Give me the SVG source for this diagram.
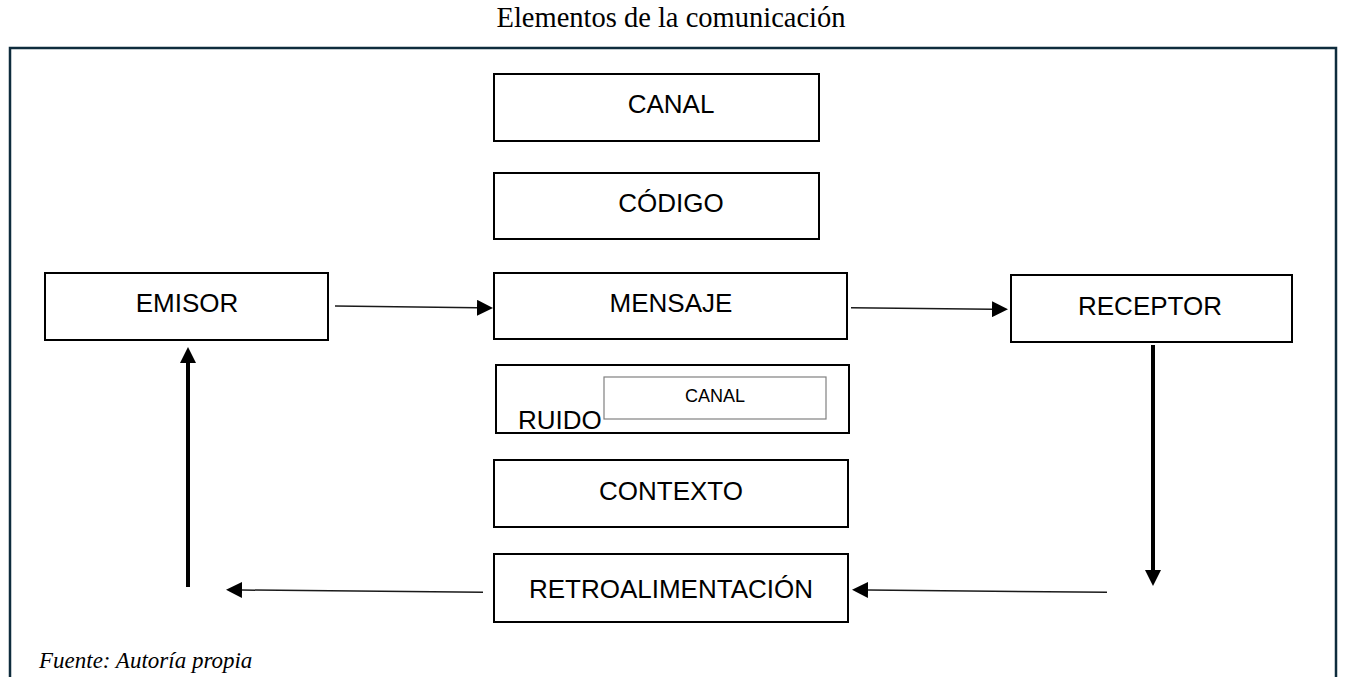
<svg xmlns="http://www.w3.org/2000/svg" width="1347" height="677" viewBox="0 0 1347 677">
<style>
.box{fill:#fff;stroke:#000;stroke-width:2}
.inner{fill:#fff;stroke:#808080;stroke-width:1.2}
.lbl{font-family:"Liberation Sans",Arial,sans-serif;font-size:26px;fill:#000;text-anchor:middle}
.thin{fill:none;stroke:#1a1a1a;stroke-width:1.5}
.thick{fill:none;stroke:#000;stroke-width:4}
</style>
<defs>
<marker id="ah" markerUnits="userSpaceOnUse" markerWidth="16" markerHeight="16" refX="0" refY="8" orient="auto" viewBox="0 0 16 16">
<path d="M0,0 L16,8 L0,16 Z" fill="#000"/>
</marker>
</defs>
<rect width="1347" height="677" fill="#fff"/>
<text x="671" y="27" font-family="Liberation Serif,'Times New Roman',serif" font-size="28.5" text-anchor="middle" fill="#000">Elementos de la comunicación</text>
<path d="M10,690 V48 H1336 V690" fill="none" stroke="#0f2c3d" stroke-width="2.5"/>
<g id="canal"><rect class="box" x="494" y="74" width="325" height="67"/><text class="lbl" x="671" y="113">CANAL</text></g>
<g id="codigo"><rect class="box" x="494" y="173" width="325" height="66"/><text class="lbl" x="671" y="212">CÓDIGO</text></g>
<g id="emisor"><rect class="box" x="45" y="273" width="283" height="67"/><text class="lbl" x="187" y="312">EMISOR</text></g>
<g id="mensaje"><rect class="box" x="494" y="273" width="353" height="66"/><text class="lbl" x="671" y="312">MENSAJE</text></g>
<g id="receptor"><rect class="box" x="1011" y="275" width="281" height="67"/><text class="lbl" x="1150" y="315">RECEPTOR</text></g>
<g id="ruido"><rect class="box" x="496" y="365" width="353" height="68"/><text class="lbl" x="518" y="429" style="text-anchor:start">RUIDO</text>
<rect class="inner" x="604" y="377" width="222" height="42"/><text class="lbl" x="715" y="402" style="font-size:18px">CANAL</text></g>
<g id="contexto"><rect class="box" x="494" y="460" width="354" height="67"/><text class="lbl" x="671" y="500">CONTEXTO</text></g>
<g id="retroalimentacion"><rect class="box" x="494" y="554" width="354" height="68"/><text class="lbl" x="671" y="598">RETROALIMENTACIÓN</text></g>
<g id="connectors">
<path class="thin" d="M335,306 L477,307.8" marker-end="url(#ah)"/>
<path class="thin" d="M851,307.7 L992,309.2" marker-end="url(#ah)"/>
<path class="thick" d="M1153,345 L1153,570" marker-end="url(#ah)"/>
<path class="thin" d="M1107,592.3 L868,590" marker-end="url(#ah)"/>
<path class="thin" d="M483,592.3 L242,590" marker-end="url(#ah)"/>
<path class="thick" d="M188,587 L188,363" marker-end="url(#ah)"/>
</g>
<text x="39" y="668" font-family="Liberation Serif,'Times New Roman',serif" font-size="23" font-style="italic" fill="#000">Fuente: Autoría propia</text>
</svg>
